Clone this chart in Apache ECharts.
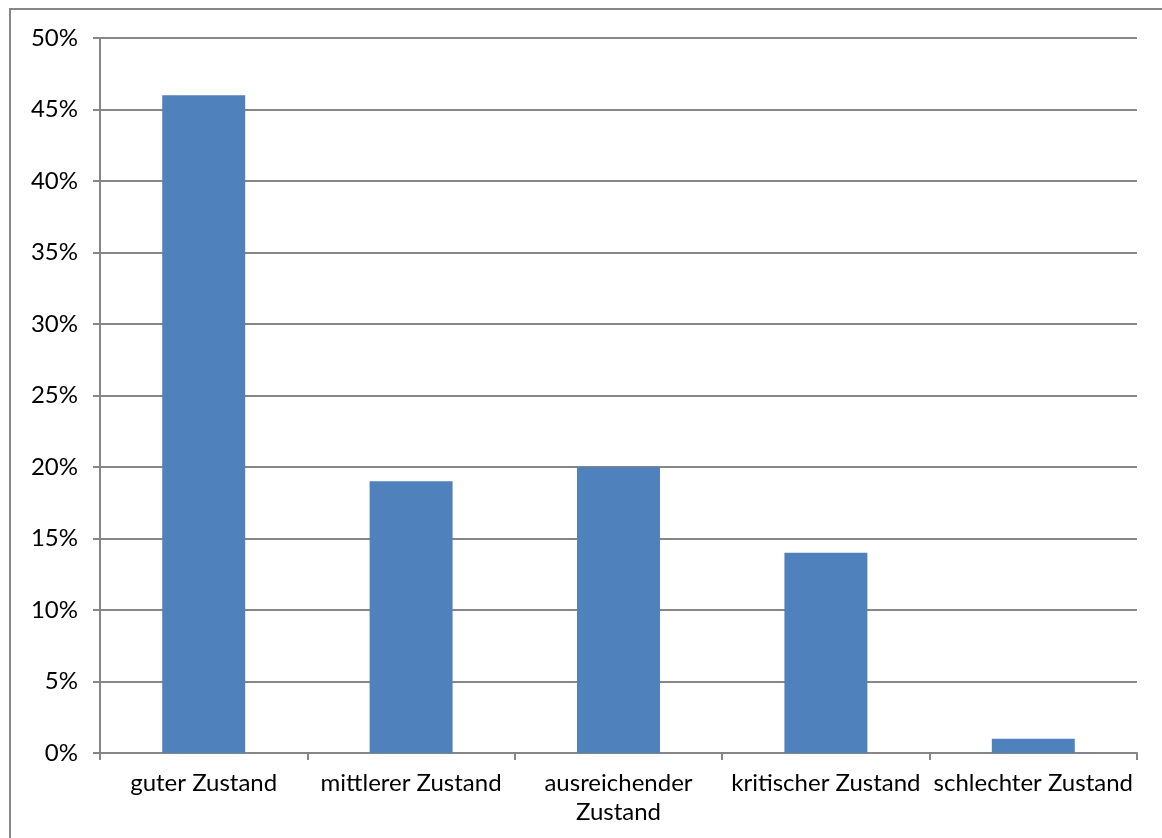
<!DOCTYPE html>
<html>
<head>
<meta charset="utf-8">
<script src="https://cdn.jsdelivr.net/npm/echarts@6/dist/echarts.min.js"></script>
<style>
  html, body { margin: 0; padding: 0; background: #fff; }
  #chart { width: 1162px; height: 838px; }
</style>
</head>
<body>
<div id="chart"></div>
<script>
// Zustand der Objekte - Anteile in Prozent
const categories = ['guter Zustand', 'mittlerer Zustand', 'ausreichender Zustand', 'kritischer Zustand', 'schlechter Zustand']
const shares = [46, 19, 20, 14, 1]
const yTicks = [0, 5, 10, 15, 20, 25, 30, 35, 40, 45, 50]

const chart = echarts.init(document.getElementById('chart'))

const gray = '#868686'
const font = 'Lato, "Open Sans", sans-serif'

chart.setOption({
  animation: false,
  graphic: [
    {
      type: 'rect',
      shape: { x: 10, y: 9, width: 1200, height: 900 },
      style: { fill: 'none', stroke: gray, lineWidth: 2 }
    }
  ],
  grid: { left: 100, top: 38, right: 25, bottom: 85 },
  xAxis: {
    type: 'category',
    data: categories,
    axisLine: { lineStyle: { color: gray, width: 2 } },
    axisTick: { show: true, length: 7, lineStyle: { color: gray, width: 2 } },
    axisLabel: {
      interval: 0,
      color: '#000',
      fontFamily: font,
      fontSize: 24,
      lineHeight: 29,
      margin: 16,
      formatter: v => v === 'ausreichender Zustand' ? 'ausreichender\nZustand' : v
    }
  },
  yAxis: {
    type: 'value',
    min: yTicks[0],
    max: yTicks[yTicks.length - 1],
    interval: 5,
    axisLine: { show: true, lineStyle: { color: gray, width: 2 } },
    axisTick: { show: true, length: 7, lineStyle: { color: gray, width: 2 } },
    splitLine: { lineStyle: { color: gray, width: 2 } },
    axisLabel: {
      color: '#000',
      fontFamily: font,
      fontSize: 24,
      margin: 22,
      formatter: '{value}%'
    }
  },
  series: [
    {
      type: 'bar',
      data: shares,
      barWidth: '40%',
      itemStyle: { color: '#4F81BD' }
    }
  ]
})
</script>
</body>
</html>
